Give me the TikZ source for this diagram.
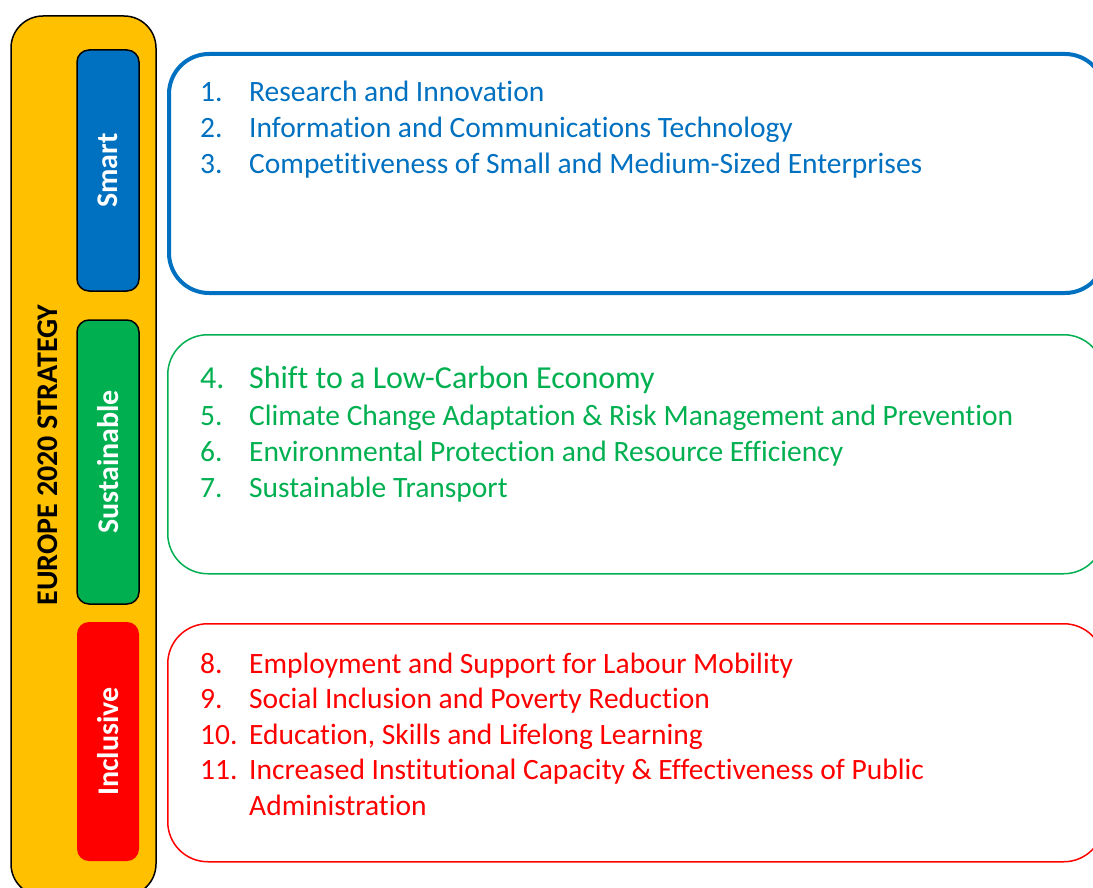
\documentclass[tikz,border=0pt]{standalone}
\usepackage{fontspec}
\setmainfont{Carlito}[Ligatures=NoCommon]
\usepackage{array}
\definecolor{smartblue}{HTML}{0070C0}
\definecolor{sustgreen}{HTML}{00B050}
\definecolor{inclred}{HTML}{FF0000}
\definecolor{stratyellow}{HTML}{FFC000}
\tikzset{pillar/.style={rounded corners=12pt, rotate=90, inner sep=0pt, minimum width=241pt, minimum height=62pt, text=white, font=\bfseries\fontsize{30}{30}\selectfont},
  area/.style={rectangle, rounded corners=40pt, anchor=north west, minimum width=936pt, minimum height=239pt, line width=1.5pt},
  items/.style={anchor=base west, inner sep=0pt, align=left, font=\fontsize{29.5}{36}\selectfont}}
\newcommand{\itemlist}[1]{\begin{tabular}[t]{@{}p{49pt}@{}l@{}}#1\end{tabular}}

\begin{document}
\begin{tikzpicture}[x=1pt, y=-1pt]
  \clip (0,0) rectangle (1093,888);
  \node[draw, line width=1.5pt, fill=stratyellow, rounded corners=32pt, minimum width=145pt, minimum height=880pt] (strategy) at (83.5,456) {};
  \node[rotate=90, font=\bfseries\fontsize{30}{30}\selectfont] (strategylabel) at (48,455) {EUROPE 2020 STRATEGY};
  \node[pillar, draw, line width=1.5pt, fill=smartblue] (smart) at (108,170.5) {Smart};
  \node[pillar, draw, line width=1.5pt, fill=sustgreen, minimum width=284pt] (sustainable) at (108,462) {Sustainable};
  \node[pillar, fill=inclred, minimum width=239pt] (inclusive) at (108,741.5) {Inclusive};

  \node[area, draw=smartblue, line width=4pt] (smartbox) at (167,52) {};
  \node[area, draw=sustgreen] (sustbox) at (167,334) {};
  \node[area, draw=inclred, minimum height=238pt] (inclbox) at (167,623) {};

  \node[items, text=smartblue] (smartlist) at (200,102) {\itemlist{
    1. & Research and Innovation\\
    2. & Information and Communications Technology\\
    3. & Competitiveness of Small and Medium-Sized Enterprises}};
  \node[items, text=sustgreen] (sustlist) at (200,388) {\itemlist{
    {\fontsize{32}{36}\selectfont 4.} & {\fontsize{32}{36}\selectfont Shift to a Low-Carbon Economy}\\[1pt]
    5. & Climate Change Adaptation \& Risk Management and Prevention\\
    6. & Environmental Protection and Resource Efficiency\\
    7. & Sustainable Transport}};
  \node[items, text=inclred] (incllist) at (200,673) {\itemlist{
    8. & Employment and Support for Labour Mobility\\[-0.5pt]
    9. & Social Inclusion and Poverty Reduction\\[-0.5pt]
    10. & Education, Skills and Lifelong Learning\\[-0.5pt]
    11. & Increased Institutional Capacity \& Effectiveness of Public\\[-0.5pt]
     & Administration}};
\end{tikzpicture}
\end{document}
